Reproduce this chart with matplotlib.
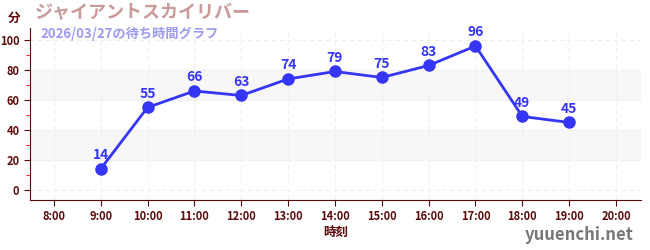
import matplotlib.pyplot as plt
import numpy as np

plt.rcParams['font.family'] = ['Noto Sans CJK JP', 'DejaVu Sans']

hours = [9, 10, 11, 12, 13, 14, 15, 16, 17, 18, 19]
waits = [14, 55, 66, 63, 74, 79, 75, 83, 96, 49, 45]
tick_hours = list(range(8, 21))
tick_labels = [f"{h}:00" for h in tick_hours]

title = "ジャイアントスカイリバー"
subtitle = "2026/03/27の待ち時間グラフ"

dark = "#5c0a0a"
blue = "#3535f5"

fig = plt.figure(figsize=(6.5, 2.5), dpi=100)
ax = fig.add_axes([0.046, 0.2, 0.94, 0.688])

ax.set_xlim(7.49, 20.53)
ax.set_ylim(-6.7, 108)

for lo, hi in [(20, 40), (60, 80)]:
    ax.axhspan(lo, hi, color="#f7f7f7", zorder=0)

ax.plot(hours, waits, color=blue, lw=2, marker="o", ms=8, zorder=3)
for h, w in zip(hours, waits):
    ax.annotate(str(w), (h, w), xytext=(0, 5), textcoords="offset points",
                ha="center", va="bottom", color=blue, fontsize=10, fontweight="bold", zorder=4)

ax.set_xticks(tick_hours)
ax.set_xticklabels(tick_labels)
ax.set_yticks([0, 20, 40, 60, 80, 100])
ax.set_yticks([10, 30, 50, 70, 90], minor=True)
ax.tick_params(axis="both", colors=dark, labelsize=8, length=4)
ax.tick_params(axis="y", which="minor", colors="red", length=3)
for lbl in ax.get_xticklabels() + ax.get_yticklabels():
    lbl.set_fontweight("bold")
    lbl.set_color(dark)

ax.grid(True, color="#eeeeee", ls=(0, (4, 3)), lw=0.8)
ax.set_axisbelow(True)
for s in ["top", "right"]:
    ax.spines[s].set_visible(False)
for s in ["left", "bottom"]:
    ax.spines[s].set_color(dark)

ax.set_xlabel("時刻", color=dark, fontsize=9, fontweight="bold", labelpad=2)

fig.text(0.012, 0.925, "分", color=dark, fontsize=9, fontweight="bold", va="center")
fig.text(0.054, 0.95, title, color="#c99a9a", fontsize=13, fontweight="bold", va="center")
fig.text(0.062, 0.865, subtitle, color="#9b9bf0", fontsize=9.5, fontweight="bold", va="center")
fig.text(0.975, 0.06, "yuuenchi.net", color="#777777", fontsize=12, fontweight="bold",
         ha="right", va="center")

fig.savefig("out.png", dpi=100)
